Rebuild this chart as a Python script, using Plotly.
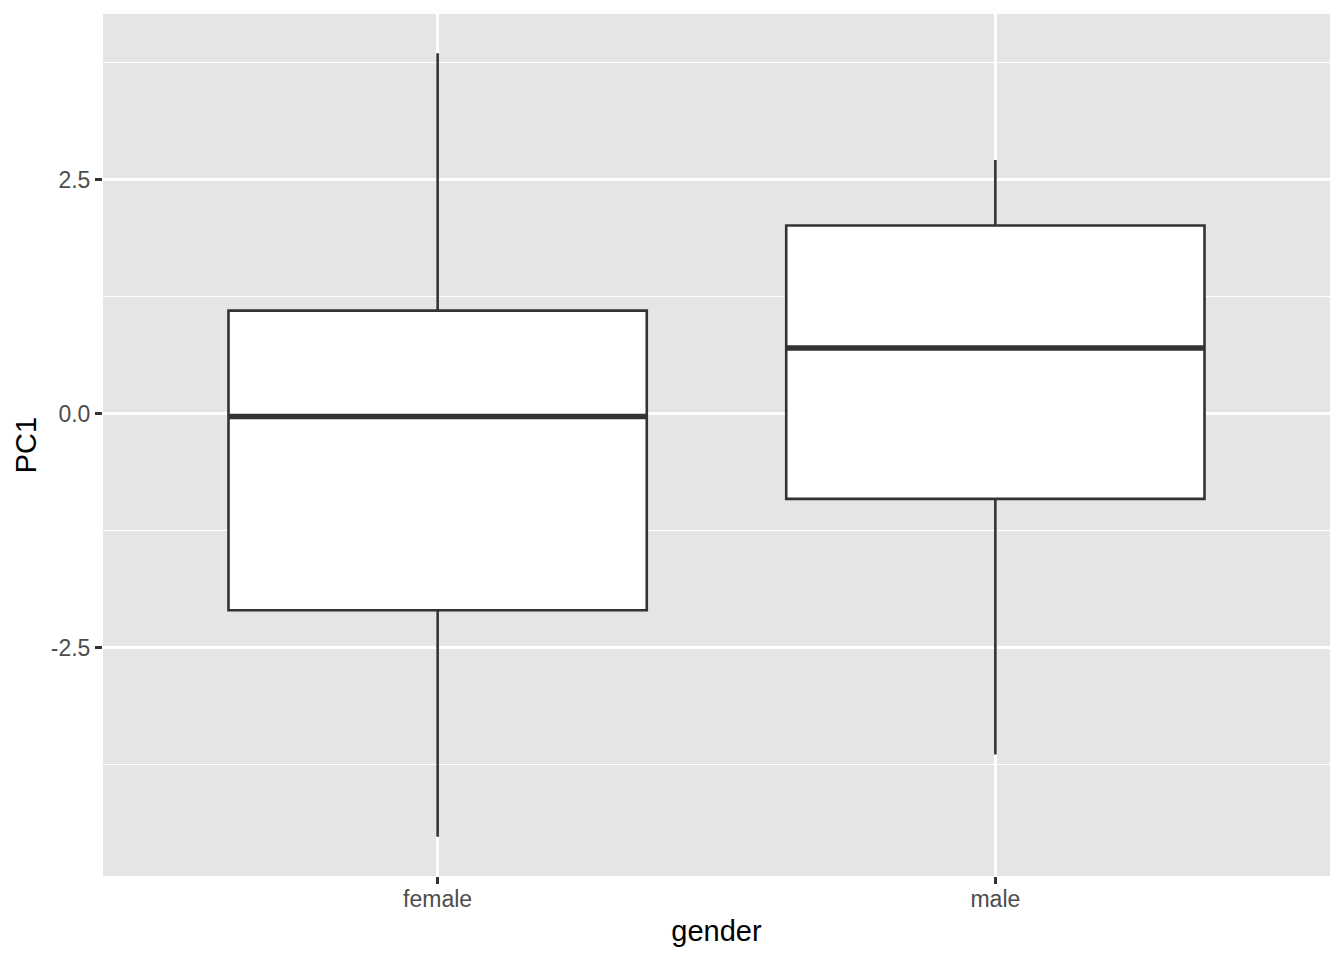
import plotly.graph_objects as go

categories = ["female", "male"]
lower_whisker = [-4.52, -3.64]
q1_vals = [-2.10, -0.91]
median_vals = [-0.03, 0.70]
q3_vals = [1.10, 2.01]
upper_whisker = [3.85, 2.71]

y_ticks = [-2.5, 0.0, 2.5]
y_tick_labels = ["-2.5", "0.0", "2.5"]
y_minor = [-3.75, -1.25, 1.25, 3.75]

positions = [i + 1 for i in range(len(categories))]
half_w = 0.375

fig = go.Figure()
for i, cat in enumerate(categories):
    fig.add_trace(go.Box(
        x=[positions[i]],
        q1=[q1_vals[i]], median=[median_vals[i]], q3=[q3_vals[i]],
        lowerfence=[lower_whisker[i]], upperfence=[upper_whisker[i]],
        width=2 * half_w,
        fillcolor="white",
        line=dict(color="#333333", width=2.6),
        whiskerwidth=0,
        boxpoints=False,
        showlegend=False,
        hoverinfo="skip",
        name=cat,
    ))
    fig.add_trace(go.Scatter(
        x=[positions[i] - half_w, positions[i] + half_w],
        y=[median_vals[i], median_vals[i]],
        mode="lines",
        line=dict(color="#333333", width=5.5),
        showlegend=False,
        hoverinfo="skip",
    ))

ymin = min(lower_whisker)
ymax = max(upper_whisker)
pad = (ymax - ymin) * 0.05

fig.update_layout(
    width=1344, height=960,
    margin=dict(l=103, r=14, t=14, b=84),
    paper_bgcolor="white",
    plot_bgcolor="#E5E5E5",
    font=dict(family="Liberation Sans, Arial, sans-serif"),
    xaxis=dict(
        range=[0.4, len(categories) + 0.6],
        tickmode="array", tickvals=positions, ticktext=categories,
        showgrid=True, gridcolor="white", gridwidth=2.8,
        zeroline=False,
        ticks="outside", ticklen=7, tickwidth=2.6, tickcolor="#333333",
        tickfont=dict(size=23, color="#4D4D4D"),
        ticklabelstandoff=-5,
        title=dict(text="gender", font=dict(size=29, color="black"), standoff=10),
    ),
    yaxis=dict(
        range=[ymin - pad, ymax + pad],
        tickmode="array", tickvals=y_ticks, ticktext=y_tick_labels,
        showgrid=True, gridcolor="white", gridwidth=2.8,
        zeroline=False,
        ticks="outside", ticklen=7, tickwidth=2.6, tickcolor="#333333",
        tickfont=dict(size=23, color="#4D4D4D"),
        title=dict(text="PC1", font=dict(size=29, color="black"), standoff=5),
        minor=dict(tickvals=y_minor, showgrid=True, gridcolor="white", gridwidth=1.4, ticks=""),
    ),
)

fig.write_html("out.html", config={"displayModeBar": False},
               post_script="document.body.style.margin='0px';")
